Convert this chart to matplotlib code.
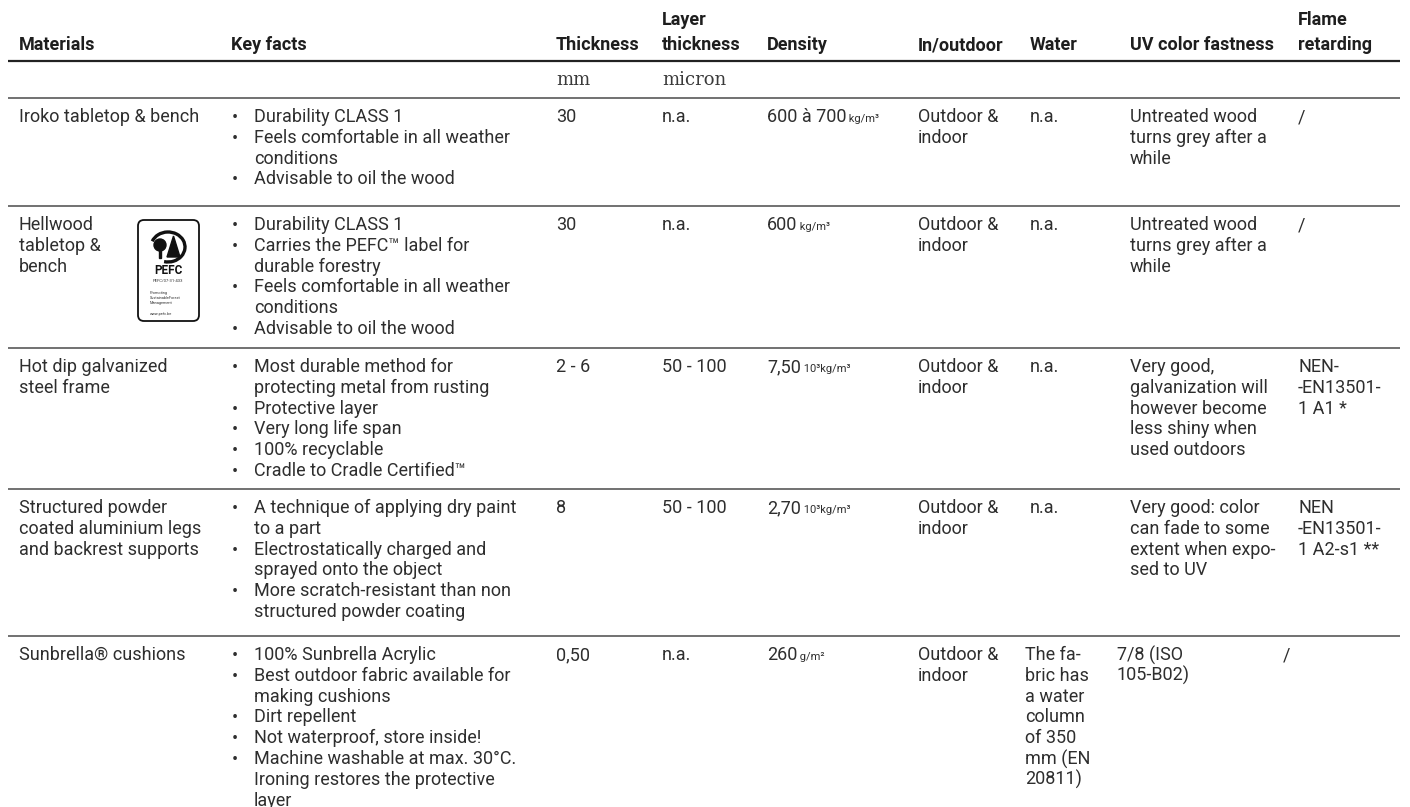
import matplotlib
matplotlib.use("Agg")
import matplotlib.pyplot as plt
from matplotlib.patches import FancyBboxPatch, Circle, Polygon, Arc, Rectangle

plt.rcParams['font.family'] = ['Roboto', 'DejaVu Sans']

# --- table content ---
headers = ["Materials", "Key facts", "Thickness", "Layer\nthickness", "Density",
           "In/outdoor", "Water", "UV color fastness", "Flame\nretarding"]
units = ["", "", "mm", "micron", "", "", "", "", ""]

materials = ["Iroko tabletop & bench",
             "Hellwood\ntabletop &\nbench",
             "Hot dip galvanized\nsteel frame",
             "Structured powder\ncoated aluminium legs\nand backrest supports",
             "Sunbrella® cushions"]

key_facts = [
    ["Durability CLASS 1", "Feels comfortable in all weather\nconditions", "Advisable to oil the wood"],
    ["Durability CLASS 1", "Carries the PEFC™ label for\ndurable forestry",
     "Feels comfortable in all weather\nconditions", "Advisable to oil the wood"],
    ["Most durable method for\nprotecting metal from rusting", "Protective layer", "Very long life span",
     "100% recyclable", "Cradle to Cradle Certified™"],
    ["A technique of applying dry paint\nto a part", "Electrostatically charged and\nsprayed onto the object",
     "More scratch-resistant than non\nstructured powder coating"],
    ["100% Sunbrella Acrylic", "Best outdoor fabric available for\nmaking cushions", "Dirt repellent",
     "Not waterproof, store inside!", "Machine washable at max. 30°C.\nIroning restores the protective\nlayer"],
]

thickness = ["30", "30", "2 - 6", "8", "0,50"]
layer_thickness = ["n.a.", "n.a.", "50 - 100", "50 - 100", "n.a."]
density = ["600 à 700", "600", "7,50", "2,70", "260"]
density_unit = ["kg/m³", "kg/m³", "10³kg/m³", "10³kg/m³", "g/m²"]
in_outdoor = ["Outdoor &\nindoor"] * 5
water = ["n.a.", "n.a.", "n.a.", "n.a.", "The fa-\nbric has\na water\ncolumn\nof 350\nmm (EN\n20811)"]
uv_fastness = ["Untreated wood\nturns grey after a\nwhile",
               "Untreated wood\nturns grey after a\nwhile",
               "Very good,\ngalvanization will\nhowever become\nless shiny when\nused outdoors",
               "Very good: color\ncan fade to some\nextent when expo-\nsed to UV",
               "7/8 (ISO\n105-B02)"]
flame = ["/", "/", "NEN-\n-EN13501-\n1 A1 *", "NEN\n-EN13501-\n1 A2-s1 **", "/"]

# --- layout (pixels) ---
W, H = 1410, 807
col_x = [19, 231, 556, 662, 767, 918, 1030, 1130, 1298]
last_row_x = {6: 1025, 7: 1117, 8: 1283}
header_rule = 61
row_rules = [98, 206, 348, 489, 636]
LH = 20.8
TOP_PAD = 19
FS = 13
TXT = "#2e2e2e"

fig = plt.figure(figsize=(W / 100, H / 100), dpi=100)
ax = fig.add_axes([0, 0, 1, 1])
ax.set_xlim(0, W)
ax.set_ylim(H, 0)
ax.axis('off')


def put(x, y, text, **kw):
    kw.setdefault('fontsize', FS)
    kw.setdefault('color', TXT)
    for k, line in enumerate(text.split('\n')):
        ax.text(x, y + k * LH, line, va='center', ha='left', **kw)


# header
for x, h in zip(col_x, headers):
    lines = h.split('\n')
    y0 = 50 - (len(lines) - 1) * 25
    for k, line in enumerate(lines):
        ax.text(x, y0 + k * 25, line, va='baseline', ha='left', fontsize=FS,
                fontweight=600, color='#1e1e1e')

# units row
for x, u in zip(col_x, units):
    if u:
        ax.text(x, 80, u, va='center', ha='left', fontsize=FS,
                family='DejaVu Serif', color='#3a3a3a')

# rules
ax.hlines(header_rule, 8, 1400, color='#222222', lw=1.6)
ax.hlines(row_rules, 8, 1400, color='#4a4a4a', lw=1.1)

# rows
for i in range(len(materials)):
    y = row_rules[i] + TOP_PAD
    xs = list(col_x)
    if i == len(materials) - 1:
        for c, v in last_row_x.items():
            xs[c] = v
    put(xs[0], y, materials[i])
    k = 0
    for fact in key_facts[i]:
        ax.text(xs[1] + 4, y + k * LH + 1, "•", va='center', ha='center', fontsize=13, color=TXT)
        put(xs[1] + 23, y + k * LH, fact)
        k += len(fact.split('\n'))
    put(xs[2], y, thickness[i])
    put(xs[3], y, layer_thickness[i])
    t = ax.text(xs[4], y, density[i], va='center', ha='left', fontsize=FS, color=TXT)
    ax.annotate(" " + density_unit[i], xy=(1, 0.12), xycoords=t, va='bottom', ha='left',
                fontsize=8, color=TXT)
    put(xs[5], y, in_outdoor[i])
    put(xs[6], y, water[i])
    put(xs[7], y, uv_fastness[i])
    put(xs[8], y, flame[i])

# PEFC label next to Hellwood
ink = '#111111'
ax.add_patch(FancyBboxPatch((138, 220), 61, 101, boxstyle="round,pad=0,rounding_size=6",
                            fc='white', ec=ink, lw=1.3))
ax.add_patch(Circle((160, 245), 6, color=ink))
ax.add_patch(Rectangle((159, 250), 2.2, 8, color=ink))
ax.add_patch(Polygon([[167, 257], [180, 257], [173.5, 236]], closed=True, color=ink))
ax.add_patch(Arc((168, 247), 34, 30, angle=0, theta1=200, theta2=105, color=ink, lw=2.4))
ax.text(168, 271, "PEFC", ha='center', va='center', fontsize=8.5, fontweight='bold', color=ink)
ax.text(168, 281, "PEFC/07-31-433", ha='center', va='center', fontsize=3, color='#333333')
for k, s in enumerate(["Promoting", "SustainableForest", "Management"]):
    ax.text(150, 293 + k * 4.8, s, ha='left', va='center', fontsize=2.8, color='#333333')
ax.text(150, 314, "www.pefc.be", ha='left', va='center', fontsize=2.8, color='#333333')

fig.savefig("out.png", dpi=100)
